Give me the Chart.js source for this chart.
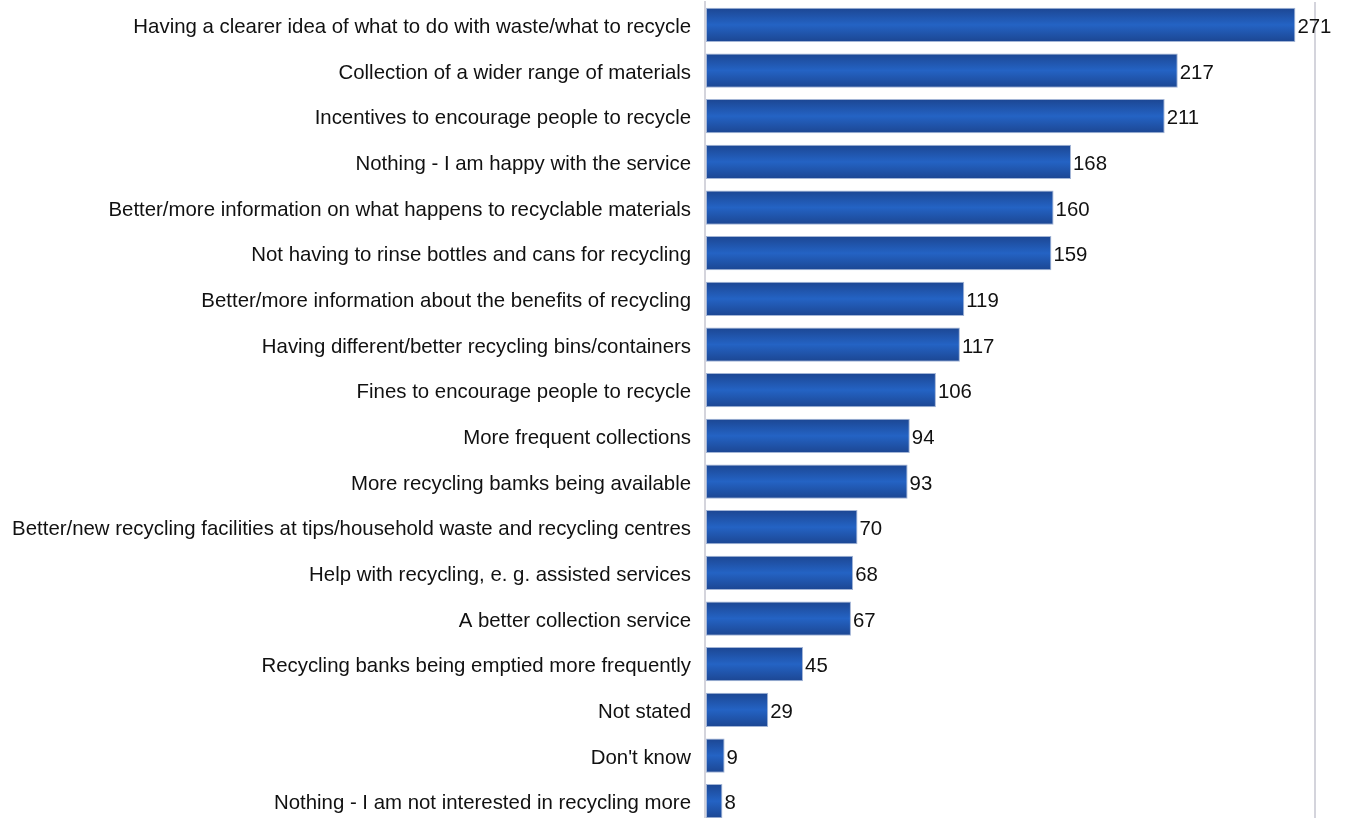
<!DOCTYPE html>
<html lang="en">
<head>
    <meta charset="UTF-8">
    <title>Ways to encourage recycling</title>
    <style>
        html, body { margin: 0; padding: 0; overflow: hidden; background: #fff; }
        #chart-container { position: relative; width: 1346px; height: 824px; }
    </style>
</head>
<body>
    <div id="chart-container">
        <canvas id="bar-chart"></canvas>
    </div>

    <script src="https://cdn.jsdelivr.net/npm/chart.js"></script>
    <script>
        const categories = [
            "Having a clearer idea of what to do with waste/what to recycle",
            "Collection of a wider range of materials",
            "Incentives to encourage people to recycle",
            "Nothing - I am happy with the service",
            "Better/more information on what happens to recyclable materials",
            "Not having to rinse bottles and cans for recycling",
            "Better/more information about the benefits of recycling",
            "Having different/better recycling bins/containers",
            "Fines to encourage people to recycle",
            "More frequent collections",
            "More recycling bamks being available",
            "Better/new recycling facilities at tips/household waste and recycling centres",
            "Help with recycling, e. g. assisted services",
            "A better collection service",
            "Recycling banks being emptied more frequently",
            "Not stated",
            "Don't know",
            "Nothing - I am not interested in recycling more"
        ];
        const responses = [271, 217, 211, 168, 160, 159, 119, 117, 106, 94, 93, 70, 68, 67, 45, 29, 9, 8];
        const axisMax = 280;

        const fontFamily = "'Liberation Sans', Arial, sans-serif";
        const fontSize = 20.4;
        const textColor = "#111";

        // vertical shading on each bar: darker edges, lighter middle
        function barGradient(context) {
            const chart = context.chart;
            const yScale = chart.scales.y;
            const area = chart.chartArea;
            const fallback = "#2058b4";
            if (!yScale || !area || context.dataIndex === undefined) return fallback;
            const y = yScale.getPixelForValue(context.dataIndex);
            const half = (area.bottom - area.top) / categories.length * 0.375;
            if (!isFinite(y) || !isFinite(half) || half <= 0) return fallback;
            const g = chart.ctx.createLinearGradient(0, y - half, 0, y + half);
            g.addColorStop(0, "#1c4692");
            g.addColorStop(0.5, "#2463c4");
            g.addColorStop(1, "#1c4692");
            return g;
        }

        // category names right-aligned left of the axis, values just past each bar
        const barText = {
            id: "barText",
            afterDatasetsDraw(chart) {
                const ctx = chart.ctx;
                const yScale = chart.scales.y;
                const meta = chart.getDatasetMeta(0);
                ctx.save();
                ctx.font = fontSize + "px " + fontFamily;
                ctx.fillStyle = textColor;
                ctx.textBaseline = "alphabetic";
                ctx.textAlign = "right";
                categories.forEach((name, i) => {
                    ctx.fillText(name, chart.chartArea.left - 14, yScale.getPixelForValue(i) + 8);
                });
                ctx.textAlign = "left";
                meta.data.forEach((bar, i) => {
                    ctx.fillText(String(responses[i]), bar.x + 2, bar.y + 8);
                });
                ctx.restore();
            }
        };

        new Chart(document.getElementById("bar-chart").getContext("2d"), {
            type: "bar",
            data: {
                labels: categories,
                datasets: [{
                    data: responses,
                    backgroundColor: barGradient,
                    borderColor: "#a3b5d6",
                    borderWidth: 1,
                    borderSkipped: false,
                    categoryPercentage: 0.75,
                    barPercentage: 1
                }]
            },
            plugins: [barText],
            options: {
                indexAxis: "y",
                responsive: true,
                maintainAspectRatio: false,
                animation: false,
                layout: { padding: { top: 2, right: 31, bottom: 0, left: 0 } },
                plugins: {
                    legend: { display: false },
                    tooltip: { enabled: false }
                },
                scales: {
                    x: {
                        min: 0,
                        max: axisMax,
                        display: true,
                        ticks: { display: false, stepSize: axisMax },
                        grid: {
                            drawTicks: false,
                            color: (c) => c.tick && c.tick.value === axisMax ? "#d4d4dc" : "rgba(0,0,0,0)",
                            lineWidth: 2
                        },
                        border: { display: false }
                    },
                    y: {
                        afterFit(scale) {
                            scale.width = 705;
                            scale.paddingTop = 0;
                            scale.paddingBottom = 0;
                        },
                        grid: { display: false, drawTicks: false },
                        border: { display: true, color: "#d4d4dc", width: 2 },
                        ticks: { display: false }
                    }
                }
            }
        });
    </script>
</body>
</html>
